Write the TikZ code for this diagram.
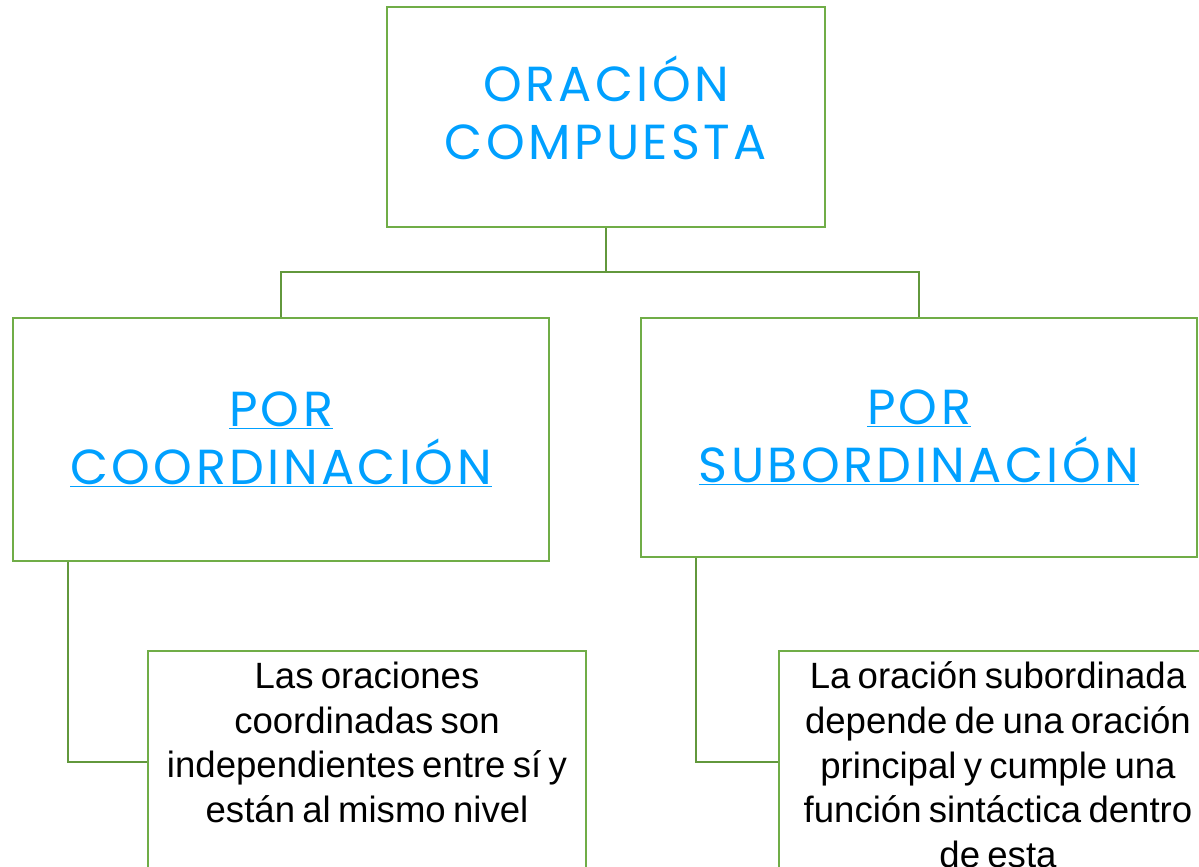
\documentclass[tikz,border=0pt]{standalone}
\usepackage{fontspec}
\setmainfont{Liberation Sans}
\newfontfamily\titrefont[LetterSpace=7]{Poppins}
\definecolor{vert}{RGB}{112,173,71}
\definecolor{vertfonce}{RGB}{98,152,60}
\definecolor{bleu}{RGB}{0,160,255}
\tikzset{
  boite/.style={draw=vert, line width=1.5pt, fill=white, inner sep=0pt},
  titre/.style={boite, text=bleu, align=center,
    font=\titrefont\fontsize{35}{41}\selectfont},
  texte/.style={boite, font=\fontsize{26}{31.7}\selectfont},
  lien/.style={draw=vertfonce, line width=1.5pt},
}
\newcommand{\contenu}[1]{\parbox[c][5cm][t]{10.9cm}{\centering\spaceskip=0.2em plus 0.1em #1}}

\begin{document}
\begin{tikzpicture}[x=0.025cm, y=-0.025cm]

% Cadre
\useasboundingbox (0,0) rectangle (1199,867);
\fill[white] (0,0) rectangle (1199,867);
\clip (0,0) rectangle (1199,867);

% Boites
\node[titre, minimum width=10.95cm, minimum height=5.5cm] (comp) at (606,117) {ORACIÓN\\COMPUESTA\rule[-13pt]{0pt}{13pt}};
\node[titre, minimum width=13.4cm, minimum height=6.075cm] (coord) at (281,439.5) {\underline{POR}\\\underline{COORDINACIÓN}};
\node[titre, minimum width=13.9cm, minimum height=5.975cm] (sub) at (919,437.5) {\underline{POR}\\\underline{SUBORDINACIÓN}};
\node[texte, minimum width=10.95cm, minimum height=5.55cm] (dcoord) at (367,762)
  {\contenu{Las oraciones\\coordinadas son\\independientes entre sí y\\están al mismo nivel}};
\node[texte, minimum width=10.95cm, minimum height=5.55cm] (dsub) at (998,762)
  {\contenu{La oración subordinada\\depende de una oración\\principal y cumple una\\función sintáctica dentro\\de esta}};

% Liens
\coordinate (j) at (606,272);
\draw[lien] (comp.south) -- (j);
\draw[lien] (coord.north) |- (j) -| (sub.north);
\draw[lien] ([xshift=1.4cm]coord.south west) |- (dcoord.west);
\draw[lien] ([xshift=1.4cm]sub.south west) |- (dsub.west);
\end{tikzpicture}
\end{document}
